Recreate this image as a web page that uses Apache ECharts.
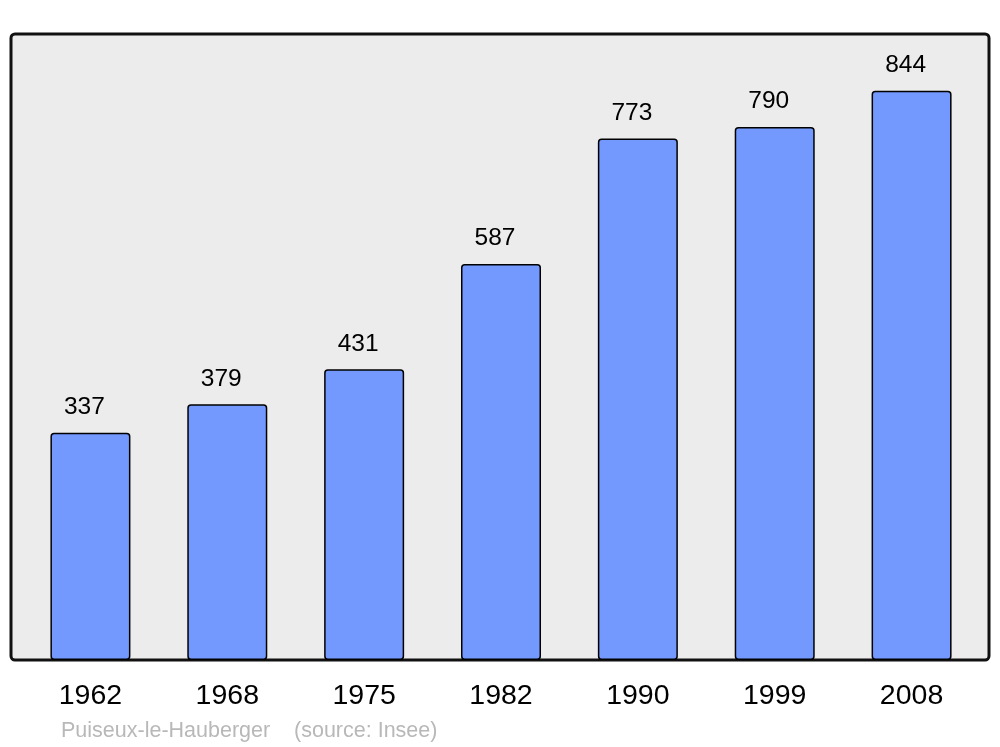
<!DOCTYPE html>
<html><head><meta charset="utf-8">
<script src="https://cdn.jsdelivr.net/npm/echarts@6/dist/echarts.min.js"></script>
<style>html,body{margin:0;padding:0;background:#fff}#c{width:1000px;height:747px}</style>
</head><body><div id="c"></div>
<script>
const years = ['1962','1968','1975','1982','1990','1999','2008'];
const population = [337, 379, 431, 587, 773, 790, 844];
const sourceText = 'Puiseux-le-Hauberger    (source: Insee)';

const chart = echarts.init(document.getElementById('c'), null, {renderer:'canvas'});
chart.setOption({
  animation: false,
  backgroundColor: '#ffffff',
  textStyle: {fontFamily: 'Liberation Sans, Arial, sans-serif'},
  graphic: [
    {type:'rect', z: -10, shape:{x:11, y:34, width:978, height:626, r:4},
     style:{fill:'#ececec', stroke:'#111111', lineWidth:3}},
    {type:'text', left: 61, top: 720,
     style:{text: sourceText, fill:'#b8b8b8', font:'21.5px "Liberation Sans", Arial, sans-serif'}}
  ],
  grid: {left: 22, right: 20, top: 34, bottom: 87},
  xAxis: {
    type:'category', data: years,
    axisLine:{show:false}, axisTick:{show:false},
    axisLabel:{color:'#000', fontSize:28.5, margin:22, fontFamily:'Liberation Sans, Arial, sans-serif'}
  },
  yAxis: {type:'value', min:0, max:928, show:false, splitLine:{show:false}},
  series: [{
    type:'bar', data: population, barWidth: 80,
    itemStyle:{color:'#7399ff', borderColor:'#000', borderWidth:1.5, borderRadius:3},
    label:{show:true, position:'top', distance:13, offset:[-6,0], color:'#000', fontSize:24.5,
      fontFamily:'Liberation Sans, Arial, sans-serif'}
  }]
});
</script></body></html>
